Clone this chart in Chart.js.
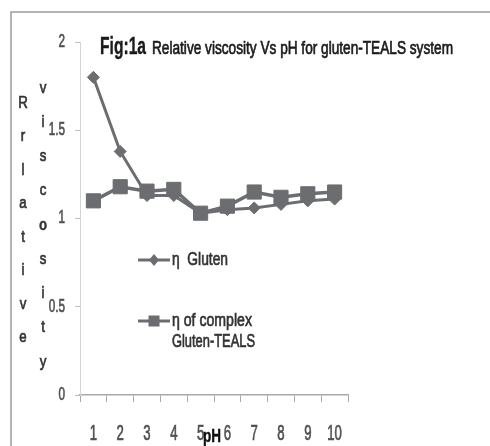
<!DOCTYPE html>
<html>
<head>
<meta charset="utf-8">
<script src="https://cdn.jsdelivr.net/npm/chart.js@4/dist/chart.umd.min.js"></script>
<style>
  html, body { margin: 0; padding: 0; background: #fff; }
  #wrap { width: 490px; height: 446px; }
</style>
</head>
<body>
<div id="wrap"><canvas id="viscChart" width="490" height="446"></canvas></div>
<script>
const phLabels = ["1", "2", "3", "4", "5", "6", "7", "8", "9", "10"];
const glutenVisc = [1.80, 1.38, 1.13, 1.13, 1.03, 1.05, 1.06, 1.08, 1.10, 1.11];
const complexVisc = [1.10, 1.18, 1.155, 1.165, 1.03, 1.07, 1.15, 1.12, 1.14, 1.15];
const yTicks = [0, 0.5, 1, 1.5, 2];

const titleBold = "Fig:1a";
const titleRest = "Relative viscosity Vs pH for gluten-TEALS system";
const yTitleA = ["R", "r", "l", "a", "t", "i", "v", "e"];
const yTitleB = ["v", "i", "s", "c", "o", "s", "i", "t", "y"];
const xTitle = "pH";
const legendGluten = "\u03b7  Gluten";
const legendComplex = ["\u03b7 of complex", "Gluten-TEALS"];

const FONT = "'Liberation Sans', sans-serif";
const GREY = "#6b6d70";
const TEXT = "#333";

// tall, narrow text: draw at full size then squeeze horizontally,
// with a light outline so the squeezed strokes keep some weight
function narrowText(ctx, text, x, y, size, k, opts = {}) {
  ctx.save();
  ctx.font = (opts.bold ? "bold " : "") + size + "px " + FONT;
  if (opts.width) k = opts.width / ctx.measureText(text).width;
  ctx.textAlign = opts.align || "left";
  ctx.textBaseline = "middle";
  ctx.fillStyle = opts.color || TEXT;
  ctx.strokeStyle = opts.color || TEXT;
  ctx.lineWidth = opts.bold ? 0.4 : 0.7;
  ctx.translate(x, y);
  ctx.scale(k, 1);
  ctx.fillText(text, 0, 0);
  ctx.strokeText(text, 0, 0);
  ctx.restore();
}

// frame, title, tick labels, stacked axis letters and the in-plot legend
const extras = {
  id: "extras",
  beforeDraw(chart) {
    const ctx = chart.ctx;
    ctx.save();
    ctx.fillStyle = "#fff";
    ctx.fillRect(0, 0, chart.width, chart.height);
    ctx.strokeStyle = "#9c9c9c";
    ctx.lineWidth = 1.5;
    ctx.beginPath();
    ctx.moveTo(11, chart.height);
    ctx.lineTo(11, 12);
    ctx.lineTo(chart.width, 12);
    ctx.stroke();
    ctx.restore();
  },
  afterDraw(chart) {
    const ctx = chart.ctx;
    const xs = chart.scales.x;
    const ys = chart.scales.y;

    narrowText(ctx, titleBold, 100, 47, 24, 1, { bold: true, width: 46, color: "#1a1a1a" });
    narrowText(ctx, titleRest, 152, 49, 18, 1, { width: 301, color: "#1a1a1a" });

    xs.ticks.forEach((t, i) => {
      narrowText(ctx, phLabels[i], xs.getPixelForTick(i), 434, 22, 0.6, { align: "center", color: "#505050" });
    });
    ys.ticks.forEach((t) => {
      narrowText(ctx, String(t.value), 65, ys.getPixelForValue(t.value), 18, 0.65, { align: "right", color: "#505050" });
    });

    yTitleA.forEach((ch, i) => {
      narrowText(ctx, ch, 23, 103 + i * 33.5, 17, 0.78, { align: "center" });
    });
    yTitleB.forEach((ch, i) => {
      narrowText(ctx, ch, 43, 88 + i * 34.25, 17, 0.78, { align: "center", bold: ch === "o" });
    });

    narrowText(ctx, xTitle, 212, 437, 18, 0.75, { align: "center", bold: true, color: "#111" });

    // legend
    ctx.save();
    ctx.strokeStyle = GREY;
    ctx.fillStyle = GREY;
    ctx.lineWidth = 3;
    ctx.beginPath();
    ctx.moveTo(138, 260);
    ctx.lineTo(170, 260);
    ctx.stroke();
    ctx.beginPath();
    ctx.moveTo(154, 254);
    ctx.lineTo(159, 260);
    ctx.lineTo(154, 266);
    ctx.lineTo(149, 260);
    ctx.closePath();
    ctx.fill();

    ctx.beginPath();
    ctx.moveTo(138, 321);
    ctx.lineTo(170, 321);
    ctx.stroke();
    ctx.fillRect(148.5, 315.5, 11, 11);
    ctx.restore();

    narrowText(ctx, legendGluten, 172, 260, 18, 1, { width: 56 });
    narrowText(ctx, legendComplex[0], 172, 321, 18, 1, { width: 80 });
    narrowText(ctx, legendComplex[1], 172, 342, 18, 1, { width: 83 });
  }
};

new Chart(document.getElementById("viscChart"), {
  type: "line",
  data: {
    labels: phLabels,
    datasets: [
      {
        label: "\u03b7 Gluten",
        data: glutenVisc,
        borderColor: GREY,
        backgroundColor: GREY,
        borderWidth: 3,
        tension: 0,
        pointStyle: "rectRot",
        pointRadius: 6,
        pointBorderWidth: 1,
        order: 1
      },
      {
        label: "\u03b7 of complex Gluten-TEALS",
        data: complexVisc,
        borderColor: GREY,
        backgroundColor: GREY,
        borderWidth: 3.5,
        tension: 0,
        pointStyle: "rect",
        pointRadius: 10,
        pointBorderWidth: 1,
        order: 0
      }
    ]
  },
  options: {
    responsive: false,
    animation: false,
    layout: { padding: { top: 42, right: 142, left: 0, bottom: 0 } },
    plugins: {
      legend: { display: false },
      title: { display: false },
      tooltip: { enabled: false }
    },
    scales: {
      x: {
        offset: true,
        afterFit(scale) { scale.height = 51; },
        border: { color: "#a8a8a8", width: 1.5 },
        grid: {
          offset: true,
          drawOnChartArea: false,
          color: "#a8a8a8",
          tickLength: 7
        },
        ticks: { display: false }
      },
      y: {
        min: 0,
        max: 2,
        afterFit(scale) { scale.width = 80; },
        afterBuildTicks(scale) { scale.ticks = yTicks.map(v => ({ value: v })); },
        border: { color: "#d4d4d4", width: 1 },
        grid: {
          drawOnChartArea: false,
          color: "#bdbdbd",
          tickLength: 5
        },
        ticks: { display: false }
      }
    }
  },
  plugins: [extras]
});
</script>
</body>
</html>
